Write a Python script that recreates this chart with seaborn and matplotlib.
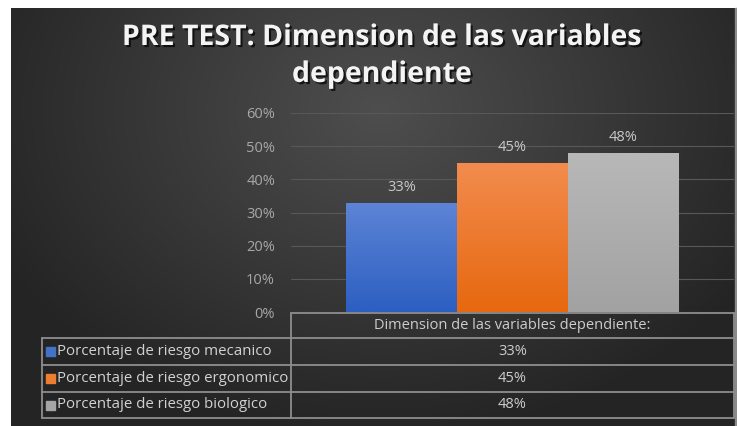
import numpy as np
import pandas as pd
import matplotlib
matplotlib.use("Agg")
import matplotlib.pyplot as plt
import matplotlib.patheffects as pe
import seaborn as sns
from matplotlib.patches import Rectangle
from matplotlib.colors import to_rgb

# ---------------- data ----------------
title_lines = ["PRE TEST: Dimension de las variables", "dependiente"]
category = "Dimension de las variables dependiente:"
series = ["Porcentaje de riesgo mecanico",
          "Porcentaje de riesgo ergonomico",
          "Porcentaje de riesgo biologico"]
values = [0.33, 0.45, 0.48]
yticks = [0.0, 0.1, 0.2, 0.3, 0.4, 0.5, 0.6]
ytick_labels = ["0%", "10%", "20%", "30%", "40%", "50%", "60%"]
value_labels = ["33%", "45%", "48%"]
colors = ["#4472C4", "#ED7D31", "#A5A5A5"]
grad_top = ["#5d84d6", "#f28c4e", "#b8b8b8"]
grad_bot = ["#2c5fc2", "#e7680f", "#a2a2a2"]

sns.set_theme(style="dark")
plt.rcParams["font.family"] = ["Open Sans", "DejaVu Sans"]

W, H = 737, 426
fig = plt.figure(figsize=(W / 100, H / 100), dpi=100, facecolor="white")

# ---------------- background panel ----------------
bg = fig.add_axes([0, 0, 1, 1])
bg.set_xlim(0, W)
bg.set_ylim(H, 0)
bg.axis("off")
px0, px1, py0, py1 = 11, 735, 8, 426
yy, xx = np.mgrid[py0:py1, px0:px1]
d = np.sqrt(((xx - 380) / 430.0) ** 2 + ((yy - 110) / 330.0) ** 2)
d = np.clip(d, 0, 1)
c_in = np.array(to_rgb("#4e4e4e"))
c_out = np.array(to_rgb("#242424"))
img = c_in[None, None, :] * (1 - d[..., None]) + c_out[None, None, :] * d[..., None]
bg.imshow(img, extent=(px0, px1, py1, py0), aspect="auto", zorder=0)
bg.add_patch(Rectangle((735, 8), 2, 418, color="#8a8a8a", zorder=0))
bg.set_xlim(0, W)
bg.set_ylim(H, 0)

# ---------------- title ----------------
shadow = [pe.withSimplePatchShadow(offset=(1.5, -1.5), shadow_rgbFace="black", alpha=0.7)]
for line, yb in zip(title_lines, [45, 82]):
    bg.text(382, yb, line, ha="center", va="baseline", fontsize=20.5,
            fontweight="bold", color="#f4f4f4", path_effects=shadow, zorder=5)

# ---------------- bar chart ----------------
ax_l, ax_r, ax_t, ax_b = 291, 734, 113, 312
ax = fig.add_axes([ax_l / W, 1 - ax_b / H, (ax_r - ax_l) / W, (ax_b - ax_t) / H])
ax.set_facecolor((0, 0, 0, 0))
df = pd.DataFrame({"cat": [category] * len(series), "serie": series, "valor": values})
sns.barplot(data=df, x="cat", y="valor", hue="serie", hue_order=series,
            palette=colors, width=0.75, ax=ax, legend=False, saturation=1,
            edgecolor="none", zorder=3)
ax.set_xlim(-0.5, 0.5)
ax.set_ylim(0, 0.6)

# gradient fill clipped to each bar
for patch, ct, cb in zip(ax.patches, grad_top, grad_bot):
    x, y = patch.get_x(), patch.get_y()
    w, h = patch.get_width(), patch.get_height()
    t = np.linspace(0, 1, 100)[:, None, None]
    g = np.array(to_rgb(ct))[None, None, :] * (1 - t) + np.array(to_rgb(cb))[None, None, :] * t
    im = ax.imshow(g, extent=(x, x + w, y, y + h), aspect="auto", zorder=4, origin="upper")
    im.set_clip_path(patch)
ax.set_xlim(-0.5, 0.5)
ax.set_ylim(0, 0.6)
ax.set_aspect("auto")

for cont, lab in zip(ax.containers, value_labels):
    ax.bar_label(cont, labels=[lab], padding=5.5, color="#c9c9c9", fontsize=10.5, zorder=6)

ax.set_yticks(yticks)
ax.set_yticklabels(ytick_labels, color="#a8a8a8", fontsize=10.5)
ax.tick_params(axis="y", length=0, pad=11.5)
ax.set_xticks([])
ax.set_xlabel("")
ax.set_ylabel("")
ax.yaxis.grid(True, color="#585858", linewidth=0.8, zorder=1)
ax.xaxis.grid(False)
for s in ax.spines.values():
    s.set_visible(False)

# ---------------- data table ----------------
lc, lw = "#8e8e8e", 1.3
tl, tx, tr = 42, 291, 734
ttop, rows_y = 313, [338, 365, 392, 418]
bg.plot([tx, tr], [ttop, ttop], color=lc, lw=lw, zorder=6)
bg.plot([tx, tx], [ttop, rows_y[-1]], color=lc, lw=lw, zorder=6)
bg.plot([tr, tr], [ttop, rows_y[-1]], color=lc, lw=lw, zorder=6)
bg.plot([tl, tl], [rows_y[0], rows_y[-1]], color=lc, lw=lw, zorder=6)
for ry in rows_y:
    bg.plot([tl, tr], [ry, ry], color=lc, lw=lw, zorder=6)

cx = (tx + tr) / 2
bg.text(cx, (ttop + rows_y[0]) / 2, category, ha="center", va="center",
        fontsize=10.5, color="#cdcdcd", zorder=7)
for i, (name, lab, col) in enumerate(zip(series, value_labels, colors)):
    yc = (rows_y[i] + rows_y[i + 1]) / 2
    bg.add_patch(Rectangle((46, yc - 4.5), 9, 9, color=col, zorder=7))
    bg.text(57, yc, name, ha="left", va="center", fontsize=10.8, color="#d2d2d2", zorder=7)
    bg.text(cx, yc, lab, ha="center", va="center", fontsize=10.5, color="#cdcdcd", zorder=7)

fig.savefig("out.png", dpi=100, facecolor="white")
